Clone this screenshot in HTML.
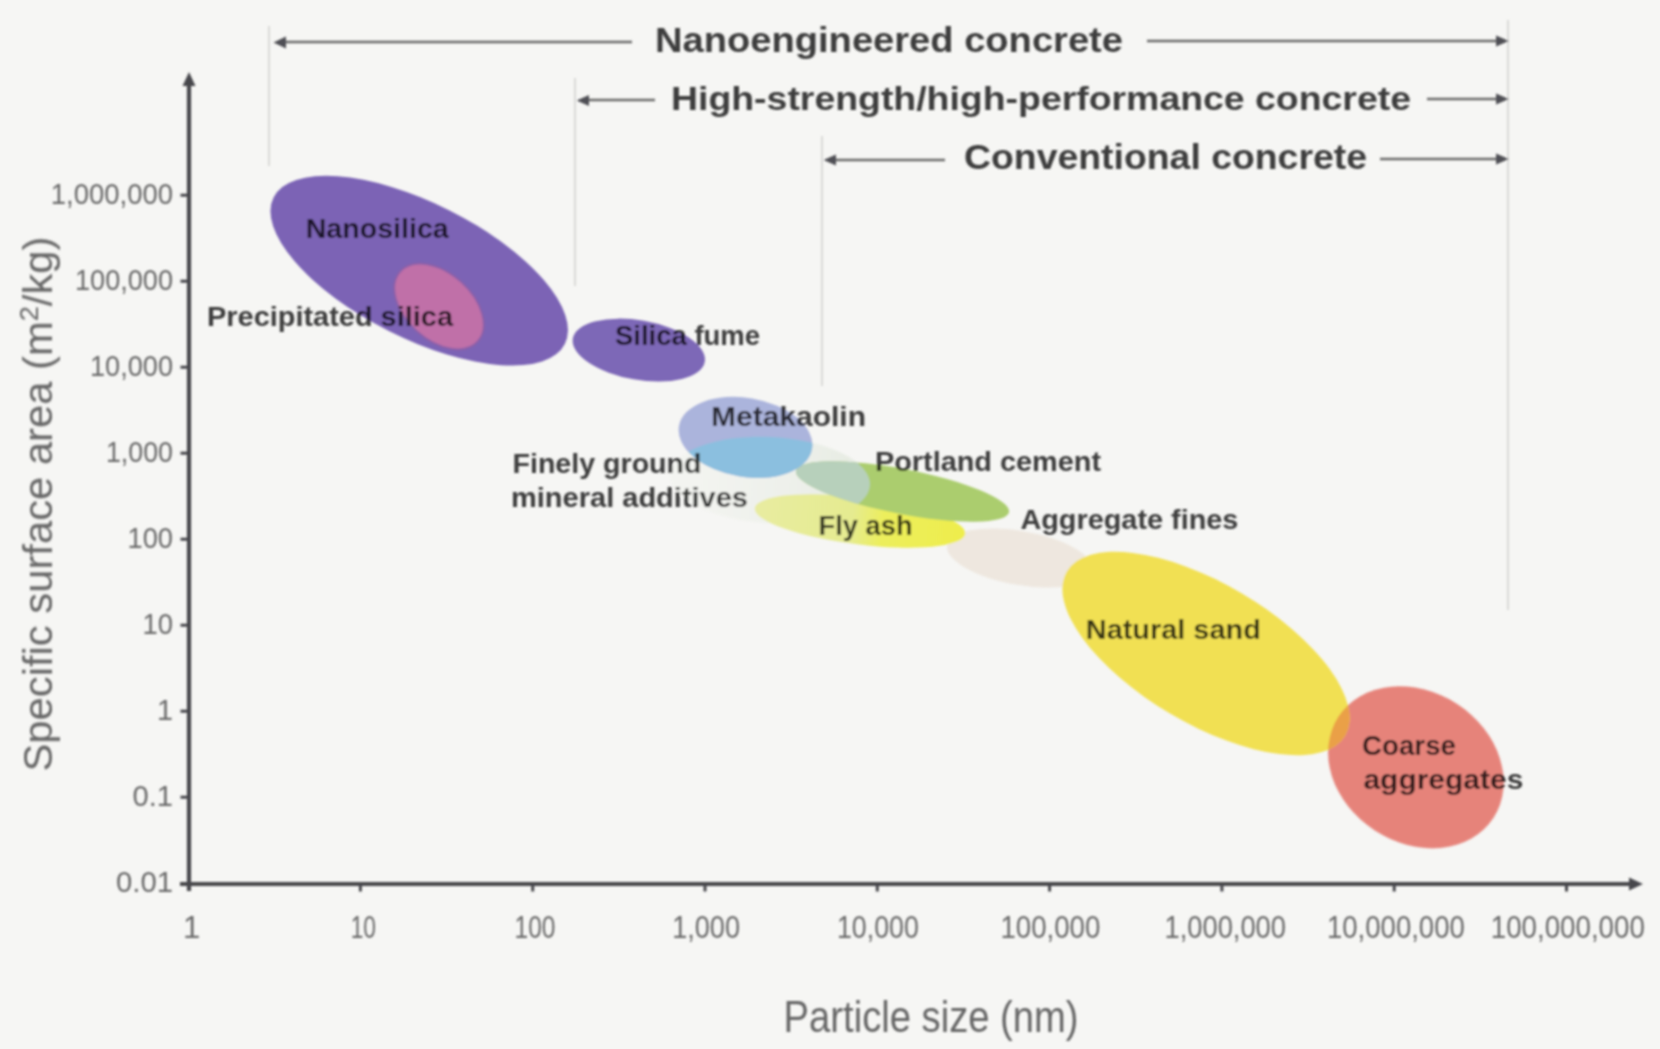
<!DOCTYPE html>
<html><head><meta charset="utf-8">
<style>
html,body{margin:0;padding:0;background:#f6f6f4;}
body{width:1660px;height:1049px;overflow:hidden;}
svg{display:block;}
text{font-family:"Liberation Sans",sans-serif;}
.b{font-weight:bold;}
</style></head>
<body>
<svg width="1660" height="1049" viewBox="0 0 1660 1049">
<defs>
  <linearGradient id="gFine" gradientUnits="userSpaceOnUse" x1="700" y1="0" x2="860" y2="0"><stop offset="0" stop-color="#f3f4f0"/><stop offset="0.6" stop-color="#edf0ea"/><stop offset="1" stop-color="#e6ebe2"/></linearGradient>
  <linearGradient id="gFly" gradientUnits="userSpaceOnUse" x1="757" y1="0" x2="968" y2="0"><stop offset="0" stop-color="#e8eca0"/><stop offset="0.45" stop-color="#e5eb90"/><stop offset="0.6" stop-color="#ecee5c"/><stop offset="1" stop-color="#eeed4c"/></linearGradient>
  <filter id="soft" x="0" y="0" width="1660" height="1049" filterUnits="userSpaceOnUse"><feGaussianBlur stdDeviation="0.8"/></filter>
  <clipPath id="cpFine"><ellipse cx="770" cy="480" rx="100" ry="43" transform="rotate(3 770 480)"/></clipPath>
  <clipPath id="cpCoarse"><ellipse cx="1415.9" cy="767.3" rx="92.6" ry="75.5" transform="rotate(33.2 1415.9 767.3)"/></clipPath>
</defs>
<rect x="0" y="0" width="1660" height="1049" fill="#f6f6f4"/>
<g filter="url(#soft)">

<!-- vertical guide lines -->
<g stroke="#dadad8" stroke-width="2">
  <line x1="269" y1="26" x2="269" y2="166"/>
  <line x1="575" y1="78" x2="575" y2="286"/>
  <line x1="822" y1="136" x2="822" y2="386"/>
  <line x1="1508" y1="20" x2="1508" y2="610"/>
</g>

<!-- top arrows -->
<g stroke="#6a6a6a" stroke-width="2.3">
  <line x1="282" y1="42" x2="632" y2="42"/>
  <line x1="1147" y1="41" x2="1497" y2="41"/>
  <line x1="587" y1="100" x2="655" y2="100"/>
  <line x1="1427" y1="99" x2="1497" y2="99"/>
  <line x1="834" y1="160" x2="945" y2="160"/>
  <line x1="1380" y1="159" x2="1497" y2="159"/>
</g>
<g fill="#505054">
  <polygon points="273.5,42.5 286,36.5 286,48.5"/>
  <polygon points="1509,41 1496,35.5 1496,46.5"/>
  <polygon points="576.5,100.5 589,95 589,106"/>
  <polygon points="1509,99 1496,93.5 1496,104.5"/>
  <polygon points="823.5,160 836,154.5 836,165.5"/>
  <polygon points="1509,159 1496,153.5 1496,164.5"/>
</g>
<g fill="#3d3d3d" class="b">
  <text x="655" y="52" font-size="35" font-weight="bold" textLength="468" lengthAdjust="spacingAndGlyphs">Nanoengineered concrete</text>
  <text x="671" y="109.8" font-size="34" font-weight="bold" textLength="740" lengthAdjust="spacingAndGlyphs">High-strength/high-performance concrete</text>
  <text x="964" y="168.5" font-size="35" font-weight="bold" textLength="403" lengthAdjust="spacingAndGlyphs">Conventional concrete</text>
</g>

<!-- ellipses -->
<ellipse cx="419.2" cy="270.7" rx="163" ry="67.5" transform="rotate(26.7 419.2 270.7)" fill="#7b63b5"/>
<ellipse cx="439" cy="306.5" rx="52.3" ry="33.2" transform="rotate(42 439 306.5)" fill="#c070a8" stroke="#8c60a8" stroke-width="2"/>
<ellipse cx="638.8" cy="350.1" rx="67" ry="29.7" transform="rotate(10 638.8 350.1)" fill="#7d67b7"/>

<ellipse cx="1020" cy="558" rx="74" ry="27" transform="rotate(10 1020 558)" fill="#eee7df"/>
<ellipse cx="770" cy="480" rx="100" ry="43" transform="rotate(3 770 480)" fill="url(#gFine)"/>
<ellipse cx="860" cy="521" rx="106" ry="23.5" transform="rotate(7 860 521)" fill="url(#gFly)"/>
<ellipse cx="902.5" cy="491.5" rx="108.5" ry="22.5" transform="rotate(11 902.5 491.5)" fill="#abcd6e"/>
<g clip-path="url(#cpFine)">
  <ellipse cx="902.5" cy="491.5" rx="108.5" ry="22.5" transform="rotate(11 902.5 491.5)" fill="#b7d0bb"/>
</g>
<ellipse cx="745.5" cy="437.4" rx="67.5" ry="39.5" transform="rotate(9.6 745.5 437.4)" fill="#abb4dc"/>
<g clip-path="url(#cpFine)">
  <ellipse cx="745.5" cy="437.4" rx="67.5" ry="39.5" transform="rotate(9.6 745.5 437.4)" fill="#8bbfdf"/>
</g>

<ellipse cx="1415.9" cy="767.3" rx="92.6" ry="75.5" transform="rotate(33.2 1415.9 767.3)" fill="#e6837a"/>
<ellipse cx="1206" cy="653.5" rx="161.5" ry="70" transform="rotate(30.5 1206 653.5)" fill="#f1e053"/>
<g clip-path="url(#cpCoarse)">
  <ellipse cx="1206" cy="653.5" rx="161.5" ry="70" transform="rotate(30.5 1206 653.5)" fill="#eaa046"/>
</g>

<!-- axes -->
<g stroke="#47474c" stroke-width="4.2" fill="#47474c">
  <line x1="189" y1="84" x2="189" y2="891"/>
  <polygon points="189,72 182.5,86 195.5,86" stroke="none"/>
  <line x1="180" y1="884" x2="1630" y2="884"/>
  <polygon points="1643,884 1629,877.5 1629,890.5" stroke="none"/>
</g>
<g stroke="#47474c" stroke-width="3">
  <line x1="180.5" y1="195.2" x2="189" y2="195.2"/>
  <line x1="180.5" y1="281.2" x2="189" y2="281.2"/>
  <line x1="180.5" y1="367.2" x2="189" y2="367.2"/>
  <line x1="180.5" y1="453.2" x2="189" y2="453.2"/>
  <line x1="180.5" y1="539.2" x2="189" y2="539.2"/>
  <line x1="180.5" y1="625.2" x2="189" y2="625.2"/>
  <line x1="180.5" y1="711.2" x2="189" y2="711.2"/>
  <line x1="180.5" y1="797.2" x2="189" y2="797.2"/>
  <line x1="360.4" y1="884" x2="360.4" y2="891.5"/>
  <line x1="532.7" y1="884" x2="532.7" y2="891.5"/>
  <line x1="705" y1="884" x2="705" y2="891.5"/>
  <line x1="877.3" y1="884" x2="877.3" y2="891.5"/>
  <line x1="1049.6" y1="884" x2="1049.6" y2="891.5"/>
  <line x1="1221.9" y1="884" x2="1221.9" y2="891.5"/>
  <line x1="1394.2" y1="884" x2="1394.2" y2="891.5"/>
  <line x1="1566.5" y1="884" x2="1566.5" y2="891.5"/>
</g>

<!-- y tick labels -->
<g fill="#6a6a6a" font-size="30">
  <text x="50.8" y="204.4" textLength="122.2" lengthAdjust="spacingAndGlyphs">1,000,000</text>
  <text x="75" y="290.4" textLength="98.0" lengthAdjust="spacingAndGlyphs">100,000</text>
  <text x="90" y="376.4" textLength="83.0" lengthAdjust="spacingAndGlyphs">10,000</text>
  <text x="105.9" y="462.4" textLength="67.1" lengthAdjust="spacingAndGlyphs">1,000</text>
  <text x="127.5" y="548.4" textLength="45.5" lengthAdjust="spacingAndGlyphs">100</text>
  <text x="142.5" y="634.4" textLength="30.5" lengthAdjust="spacingAndGlyphs">10</text>
  <text x="157" y="720.4" textLength="16.0" lengthAdjust="spacingAndGlyphs">1</text>
  <text x="132.5" y="806.4" textLength="40.5" lengthAdjust="spacingAndGlyphs">0.1</text>
  <text x="116" y="892.4" textLength="57.0" lengthAdjust="spacingAndGlyphs">0.01</text>
</g>
<!-- x tick labels -->
<g fill="#6a6a6a" font-size="31">
  <text x="183" y="938">1</text>
  <text x="350.7" y="938" textLength="25.3" lengthAdjust="spacingAndGlyphs">10</text>
  <text x="514.6" y="938" textLength="40.9" lengthAdjust="spacingAndGlyphs">100</text>
  <text x="672.2" y="938" textLength="67.8" lengthAdjust="spacingAndGlyphs">1,000</text>
  <text x="837" y="938" textLength="81.8" lengthAdjust="spacingAndGlyphs">10,000</text>
  <text x="1000.5" y="938" textLength="99.8" lengthAdjust="spacingAndGlyphs">100,000</text>
  <text x="1164.5" y="938" textLength="121.5" lengthAdjust="spacingAndGlyphs">1,000,000</text>
  <text x="1327" y="938" textLength="137.8" lengthAdjust="spacingAndGlyphs">10,000,000</text>
  <text x="1490.8" y="938" textLength="154.0" lengthAdjust="spacingAndGlyphs">100,000,000</text>
</g>

<!-- axis titles -->
<text x="783.6" y="1032" font-size="44" fill="#666666" textLength="295" lengthAdjust="spacingAndGlyphs">Particle size (nm)</text>
<text transform="translate(52 771.5) rotate(-90)" font-size="40" fill="#666666" textLength="535" lengthAdjust="spacingAndGlyphs">Specific surface area (m<tspan font-size="26" dy="-14">2</tspan><tspan dy="14">/kg)</tspan></text>

<!-- labels -->
<g font-weight="bold" font-size="27" fill="#3c3c3c" style="mix-blend-mode:multiply">
  <text x="305.7" y="238.3" textLength="143" lengthAdjust="spacingAndGlyphs">Nanosilica</text>
  <text x="207" y="326" textLength="246" lengthAdjust="spacingAndGlyphs">Precipitated silica</text>
  <text x="615" y="345" textLength="145" lengthAdjust="spacingAndGlyphs">Silica fume</text>
  <text x="711" y="425.8" textLength="155" lengthAdjust="spacingAndGlyphs">Metakaolin</text>
  <text x="512.5" y="472.9" textLength="189" lengthAdjust="spacingAndGlyphs">Finely ground</text>
  <text x="511" y="507.3" textLength="237" lengthAdjust="spacingAndGlyphs">mineral additives</text>
  <text x="875" y="470.5" textLength="226" lengthAdjust="spacingAndGlyphs">Portland cement</text>
  <text x="818.6" y="535.4" textLength="94" lengthAdjust="spacingAndGlyphs">Fly ash</text>
  <text x="1020.4" y="528.8" textLength="218" lengthAdjust="spacingAndGlyphs">Aggregate fines</text>
  <text x="1085.8" y="639" textLength="175" lengthAdjust="spacingAndGlyphs">Natural sand</text>
  <text x="1362" y="755" textLength="94" lengthAdjust="spacingAndGlyphs">Coarse</text>
  <text x="1363.4" y="789" textLength="160" lengthAdjust="spacingAndGlyphs">aggregates</text>
</g>
</g>
</svg>
</body></html>
